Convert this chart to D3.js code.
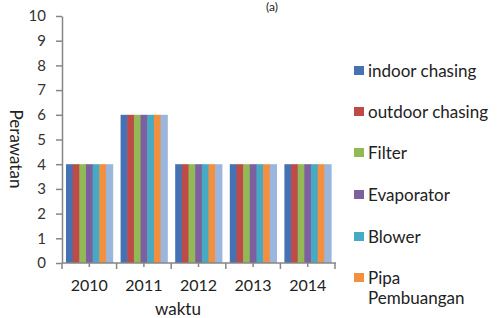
<!DOCTYPE html>
<html><head><meta charset="utf-8">
<script src="https://cdn.jsdelivr.net/npm/d3@7"></script>
<style>body{margin:0;background:#fff}svg{display:block}text{font-family:Lato,"Open Sans",sans-serif}</style>
</head><body><div id="chart"></div>
<script>
const categories = ["2010","2011","2012","2013","2014"];
const seriesNames = ["indoor chasing","outdoor chasing","Filter","Evaporator","Blower","Pipa Pembuangan","Kompresor"];
const indoorChasing = [4,6,4,4,4];
const outdoorChasing = [4,6,4,4,4];
const filter = [4,6,4,4,4];
const evaporator = [4,6,4,4,4];
const blower = [4,6,4,4,4];
const pipaPembuangan = [4,6,4,4,4];
const kompresor = [4,6,4,4,4];
const seriesValues = [indoorChasing,outdoorChasing,filter,evaporator,blower,pipaPembuangan,kompresor];
const colors = ["#4572B4","#BE4B48","#93B856","#7D60A0","#46AAC5","#F3903F","#9AB6DC"];
const yTicks = [0,1,2,3,4,5,6,7,8,9,10];
const legendShown = 6;

const W=497,H=318;
const svg=d3.select("#chart").append("svg").attr("width",W).attr("height",H);
const x0=d3.scaleBand().domain(categories).range([62,335]).paddingInner(0).paddingOuter(0);
const x1=d3.scaleBand().domain(d3.range(seriesNames.length)).range([0,x0.bandwidth()]).paddingOuter(0.6).paddingInner(0);
const y=d3.scaleLinear().domain([0,10]).range([263,16]);

// bars
categories.forEach((c,ci)=>{
  const g=svg.append("g").attr("transform",`translate(${x0(c)},0)`);
  seriesValues.forEach((vals,si)=>{
    g.append("rect").attr("x",x1(si)).attr("y",y(vals[ci])).attr("width",x1.bandwidth()+0.6).attr("height",y(0)-y(vals[ci])).attr("fill",colors[si]);
  });
});

// y axis
const yAxis=d3.axisLeft(y).tickValues(yTicks).tickSize(6).tickSizeOuter(0);
const ya=svg.append("g").attr("transform","translate(62,0)").call(yAxis);
ya.select(".domain").attr("stroke","#868686").attr("stroke-width",1.5);
ya.selectAll(".tick line").attr("stroke","#868686").attr("stroke-width",1.5);
ya.selectAll(".tick text").attr("font-size",15).attr("fill","#333").attr("x",-16);

// x axis
const xa=svg.append("g").attr("transform","translate(0,263)");
xa.append("line").attr("x1",62).attr("x2",336).attr("stroke","#868686").attr("stroke-width",1.5);
const bounds=categories.map(c=>x0(c)).concat([x0.range()[1]]);
bounds.forEach(b=>xa.append("line").attr("x1",b).attr("x2",b).attr("y1",0).attr("y2",6).attr("stroke","#868686").attr("stroke-width",1.5));
categories.forEach(c=>{
  const cx=x0(c)+x0.bandwidth()/2;
  xa.append("line").attr("x1",cx).attr("x2",cx).attr("y1",0).attr("y2",4).attr("stroke","#868686").attr("stroke-width",1.5);
  xa.append("text").attr("x",cx).attr("y",28).attr("text-anchor","middle").attr("font-size",16).attr("fill","#222").text(c);
});

// axis titles
svg.append("text").attr("x",178).attr("y",315).attr("text-anchor","middle").attr("font-size",17).attr("fill","#222").text("waktu");
svg.append("text").attr("transform","translate(10,149) rotate(90)").attr("text-anchor","middle").attr("font-size",17).attr("fill","#222").text("Perawatan");
svg.append("text").attr("x",272).attr("y",11).attr("text-anchor","middle").attr("font-size",12).attr("fill","#222").text("(a)");

// legend
const legendY=[71,112,153,195,237,278];
seriesNames.slice(0,legendShown).forEach((n,i)=>{
  const g=svg.append("g").attr("transform",`translate(354,${legendY[i]})`);
  g.append("rect").attr("x",0).attr("y",-5).attr("width",10).attr("height",9).attr("fill",colors[i]);
  const words=n==="Pipa Pembuangan"?["Pipa","Pembuangan"]:[n];
  words.forEach((w,wi)=>g.append("text").attr("x",14).attr("y",6+wi*20).attr("font-size",17).attr("fill","#222").text(w));
});
</script></body></html>
